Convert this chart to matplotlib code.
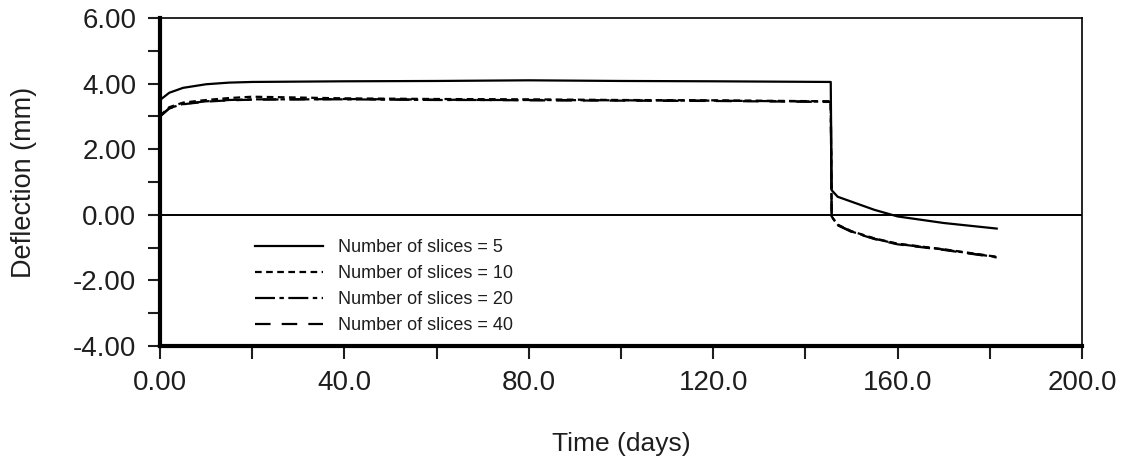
import matplotlib
matplotlib.use("Agg")
import matplotlib.pyplot as plt
from matplotlib.ticker import MultipleLocator, FormatStrFormatter

plt.rcParams['font.family'] = ['Liberation Sans', 'DejaVu Sans']

# Time (days)
t = [0, 2, 5, 10, 15, 20, 40, 60, 80, 100, 120, 145.5,
     145.7, 147, 150, 155, 160, 170, 181.5]

# Deflection (mm) for each number of slices
defl_5 = [3.50, 3.72, 3.87, 3.98, 4.03, 4.05, 4.07, 4.08, 4.10, 4.08, 4.07, 4.05,
          0.75, 0.55, 0.40, 0.15, -0.05, -0.25, -0.42]
defl_10 = [3.02, 3.28, 3.42, 3.50, 3.56, 3.60, 3.55, 3.53, 3.52, 3.50, 3.49, 3.46,
           -0.05, -0.30, -0.50, -0.72, -0.88, -1.05, -1.28]
defl_20 = [3.00, 3.25, 3.38, 3.46, 3.50, 3.52, 3.52, 3.50, 3.50, 3.49, 3.48, 3.45,
           -0.06, -0.31, -0.51, -0.73, -0.89, -1.06, -1.29]
defl_40 = [3.00, 3.24, 3.37, 3.45, 3.49, 3.51, 3.53, 3.51, 3.49, 3.48, 3.47, 3.44,
           -0.07, -0.32, -0.52, -0.74, -0.90, -1.07, -1.30]

labels = ["Number of slices = 5", "Number of slices = 10",
          "Number of slices = 20", "Number of slices = 40"]

ink = '#1e1e1e'

fig = plt.figure(figsize=(11.3, 4.59), dpi=100)
ax = fig.add_axes([0.1416, 0.2462, 0.8159, 0.7146])

ax.plot(t, defl_5, color='black', lw=1.6, linestyle='-', label=labels[0])
ax.plot(t, defl_10, color='black', lw=1.6, linestyle=(0, (3, 2)), label=labels[1])
ax.plot(t, defl_20, color='black', lw=1.6, linestyle=(0, (9, 2, 2, 2)), label=labels[2])
ax.plot(t, defl_40, color='black', lw=1.6, linestyle=(0, (7, 5)), label=labels[3])

ax.axhline(0, color='black', lw=1.4)

ax.set_xlim(0, 200)
ax.set_ylim(-4, 6)
ax.xaxis.set_minor_locator(MultipleLocator(20))
ax.yaxis.set_major_locator(MultipleLocator(2))
ax.yaxis.set_minor_locator(MultipleLocator(1))
ax.yaxis.set_major_formatter(FormatStrFormatter('%.2f'))
ax.set_xticks([0, 40, 80, 120, 160, 200])
ax.set_xticklabels(['0.00', '40.0', '80.0', '120.0', '160.0', '200.0'])

ax.tick_params(axis='both', which='both', direction='out', width=1.5, colors=ink)
ax.tick_params(axis='both', which='major', length=9, labelsize=20, pad=8)
ax.tick_params(axis='both', which='minor', length=9)

for side in ['left', 'bottom']:
    ax.spines[side].set_linewidth(3.0)
for side in ['top', 'right']:
    ax.spines[side].set_linewidth(1.2)

ax.set_xlabel("Time (days)", fontsize=19, labelpad=26, color=ink)
ax.set_ylabel("Deflection (mm)", fontsize=19.5, labelpad=26, color=ink)

leg = ax.legend(loc='lower left', bbox_to_anchor=(0.085, -0.014), frameon=False,
                fontsize=13, handlelength=3.8, labelspacing=0.5, handletextpad=0.8)
for txt in leg.get_texts():
    txt.set_color(ink)

fig.savefig("out.png", dpi=100, facecolor='white')
